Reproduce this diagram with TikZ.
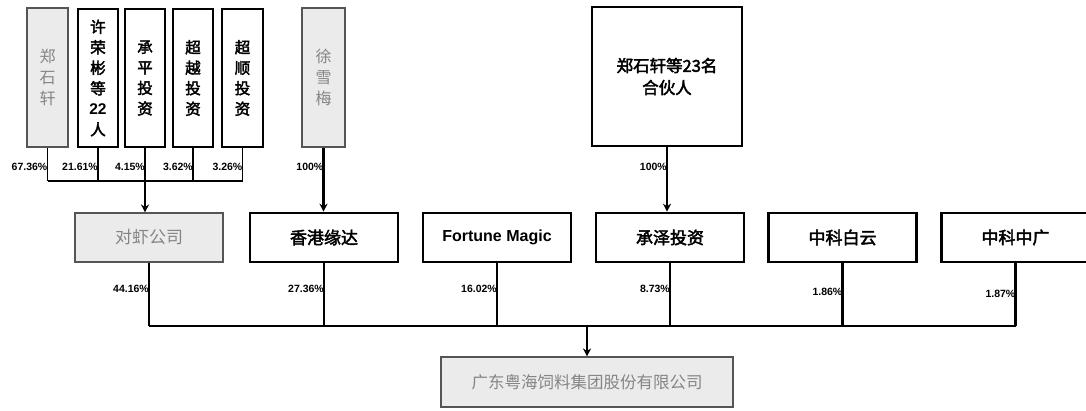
\documentclass[tikz,border=0pt]{standalone}
\usepackage{fontspec}
\setmainfont{Liberation Sans}
\newfontfamily\cjk{Noto Sans CJK SC}
\newfontfamily\cjkb[FakeBold=2.5]{Noto Sans CJK SC}
\usetikzlibrary{arrows.meta,calc}
\definecolor{boxgray}{HTML}{EBEBEB}
\definecolor{txtgray}{HTML}{858585}
\definecolor{edgegray}{HTML}{555555}
\tikzset{
  graybox/.style={draw=edgegray,line width=1.1pt,fill=boxgray,text=txtgray,inner sep=0pt,font=\cjk\fontsize{16}{21}\selectfont,align=center},
  whitebox/.style={draw=black,line width=2.6pt,fill=white,inner sep=0pt,font=\cjkb\fontsize{15.5}{20.5}\selectfont,align=center},
  topv/.style={minimum width=40pt,minimum height=138pt},
  midbox/.style={minimum width=148pt,minimum height=49pt,font=\cjkb\fontsize{17}{20}\selectfont},
  pct/.style={font=\bfseries\fontsize{10.5}{11}\selectfont,inner sep=0pt,anchor=east},
  conn/.style={line width=1.6pt},
  connb/.style={line width=2.2pt},
  arr/.style={-{Stealth[length=8pt,width=8pt]}}
}
\begin{document}
\begin{tikzpicture}[x=1pt,y=-1pt]
\useasboundingbox (0,0) rectangle (1086,410);
\clip (0,0) rectangle (1086,410);
% top row
\node[graybox,topv,minimum width=41pt,minimum height=139pt] (zsx) at (47.5,77.5) {郑\\石\\轩};
\node[whitebox,topv] (xrb) at (98,78) {许\\荣\\彬\\等\\{\bfseries\fontspec{Liberation Sans}22}\\人};
\node[whitebox,topv] (cp) at (145,78) {承\\平\\投\\资};
\node[whitebox,topv] (cy) at (193,78) {超\\越\\投\\资};
\node[whitebox,topv,minimum width=41pt] (cs) at (242.5,78) {超\\顺\\投\\资};
\node[graybox,topv,minimum width=43pt,minimum height=139pt] (xxm) at (323.5,77.5) {徐\\雪\\梅};
\node[whitebox,minimum width=150pt,minimum height=139pt,font=\cjkb\fontsize{16.5}{22}\selectfont] (hhr) at (667,76.5) {郑石轩等23名\\合伙人};
% middle row
\node[graybox,midbox,font=\cjk\fontsize{17}{20}\selectfont] (dx) at (149,237.5) {对虾公司};
\node[whitebox,midbox] (hk) at (324,237.5) {香港缘达};
\node[whitebox,midbox,font=\bfseries\fontsize{16}{18}\selectfont] (fm) at (497,237.5) {Fortune Magic};
\node[whitebox,midbox] (cz) at (670,237.5) {承泽投资};
\node[whitebox,midbox] (zkby) at (842.5,237.5) {中科白云};
\node[whitebox,midbox] (zkzg) at (1015.5,237.5) {中科中广};
% bottom
\node[graybox,minimum width=292pt,minimum height=50pt,font=\cjk\fontsize{16.5}{20}\selectfont] (gd) at (587,382) {广东粤海饲料集团股份有限公司};
% top bus
\coordinate (busT) at (cp.south |- 0,181);
\foreach \b in {zsx,xrb,cp,cy,cs} {\draw[conn] (\b.south) -- (\b.south |- busT);}
\draw[conn] (zsx.south |- busT) -- (cs.south |- busT);
\draw[conn,line width=1.8pt,arr] (busT) -- (dx.north -| busT);
\draw[connb,line width=2.5pt,arr] (xxm.south) -- (hk.north -| xxm.south);
\draw[conn,line width=1.9pt,arr] (hhr.south) -- (cz.north -| hhr.south);
% top labels
\node[pct] at ($(zsx.south)+(0,19)$) {67.36\%};
\node[pct] at ($(xrb.south)+(0,19)$) {21.61\%};
\node[pct] at ($(cp.south)+(0,19)$) {4.15\%};
\node[pct] at ($(cy.south)+(0,19)$) {3.62\%};
\node[pct] at ($(cs.south)+(0,19)$) {3.26\%};
\node[pct] at ($(xxm.south)+(0,19)$) {100\%};
\node[pct] at ($(hhr.south)+(0,20)$) {100\%};
% bottom bus
\coordinate (busB) at (gd.north |- 0,326);
\foreach \b in {dx,hk,fm,cz,zkby,zkzg} {\draw[connb] (\b.south) -- (\b.south |- busB);}
\draw[conn,line width=1.9pt] (dx.south |- busB) -- (zkzg.south |- busB);
\draw[conn,line width=1.9pt,arr] (busB) -- (gd.north);
\node[pct] at ($(dx.south)+(0,26)$) {44.16\%};
\node[pct] at ($(hk.south)+(0,26)$) {27.36\%};
\node[pct] at ($(fm.south)+(0,26)$) {16.02\%};
\node[pct] at ($(cz.south)+(0,26)$) {8.73\%};
\node[pct] at ($(zkby.south)+(0,29)$) {1.86\%};
\node[pct] at ($(zkzg.south)+(0,31)$) {1.87\%};
\end{tikzpicture}
\end{document}
